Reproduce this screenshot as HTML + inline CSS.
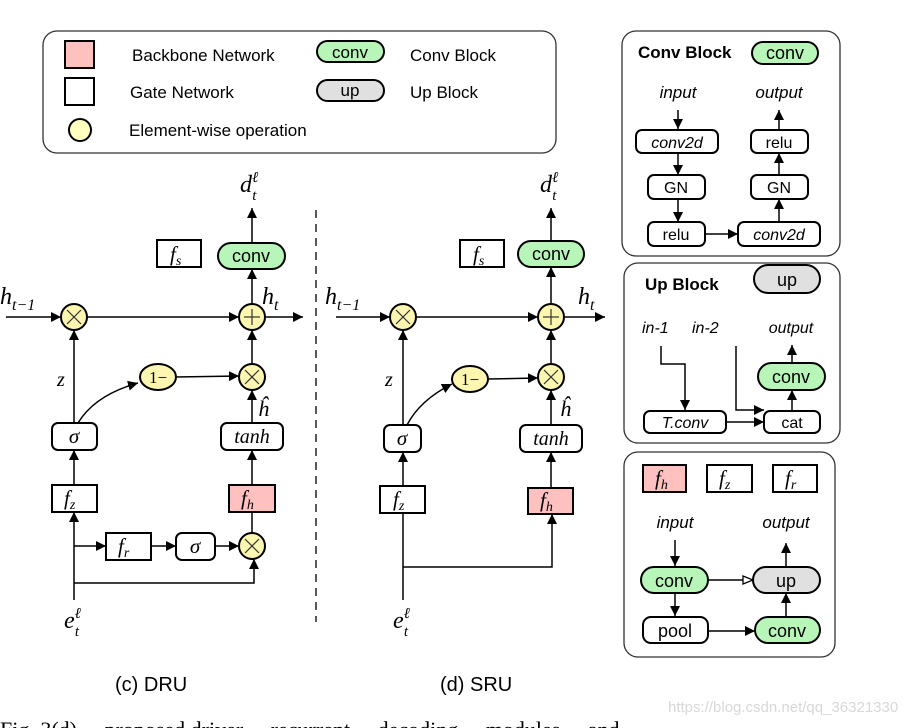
<!DOCTYPE html>
<html><head><meta charset="utf-8"><style>
html,body{margin:0;padding:0;background:#fff}
svg{display:block}
.s{font-family:"Liberation Sans",sans-serif}
.m{font-family:"Liberation Serif",serif;font-style:italic}
</style></head><body>
<svg width="921" height="728" viewBox="0 0 921 728" xmlns="http://www.w3.org/2000/svg">
<defs>
<marker id="a" viewBox="0 0 10 10" refX="10" refY="5" markerWidth="10" markerHeight="10" markerUnits="userSpaceOnUse" orient="auto"><path d="M0,0L10,5L0,10z" fill="#000"/></marker>
<marker id="o" viewBox="0 0 12 10" refX="11" refY="5" markerWidth="12" markerHeight="10" markerUnits="userSpaceOnUse" orient="auto"><path d="M1,1L11,5L1,9z" fill="#fff" stroke="#000" stroke-width="1.3"/></marker>
</defs>
<g stroke="#000" stroke-width="1.5" fill="none">
<!-- legend -->
<rect x="43" y="31" width="513" height="122" rx="14" stroke="#333" stroke-width="1.3"/>
<rect x="65" y="41" width="29" height="27" fill="#ffc0c0" stroke-width="2"/>
<rect x="65" y="78" width="29" height="27" fill="#fff" stroke-width="2"/>
<circle cx="80" cy="130" r="11" fill="#ffffc0" stroke-width="2"/>
<rect x="317" y="41" width="67" height="21" rx="10.5" fill="#b8f5b8" stroke-width="2"/>
<rect x="317" y="80" width="67" height="21" rx="10.5" fill="#e0e0e0" stroke-width="2"/>
</g>
<g class="s" font-size="17" fill="#000">
<text x="132" y="61">Backbone Network</text>
<text x="130" y="98">Gate Network</text>
<text x="129" y="136">Element-wise operation</text>
<text x="350" y="58" text-anchor="middle">conv</text>
<text x="350" y="96" text-anchor="middle">up</text>
<text x="410" y="61">Conv Block</text>
<text x="410" y="98">Up Block</text>
</g>

<!-- DRU -->
<g stroke="#000" stroke-width="1.5" fill="none">
<line x1="6" y1="317" x2="61" y2="317" marker-end="url(#a)"/>
<line x1="87" y1="317" x2="239" y2="317" marker-end="url(#a)"/>
<line x1="265" y1="317" x2="303" y2="317" marker-end="url(#a)"/>
<line x1="252" y1="243" x2="252" y2="208" marker-end="url(#a)"/>
<line x1="252" y1="304" x2="252" y2="269" marker-end="url(#a)"/>
<line x1="252" y1="364" x2="252" y2="330" marker-end="url(#a)"/>
<line x1="252" y1="423" x2="252" y2="390" marker-end="url(#a)"/>
<line x1="252" y1="485" x2="252" y2="450" marker-end="url(#a)"/>
<line x1="252" y1="533" x2="252" y2="512"/>
<line x1="74" y1="423" x2="74" y2="330" marker-end="url(#a)"/>
<line x1="74" y1="485" x2="74" y2="450" marker-end="url(#a)"/>
<line x1="74" y1="600" x2="74" y2="512" marker-end="url(#a)"/>
<line x1="74" y1="546" x2="106" y2="546" marker-end="url(#a)"/>
<line x1="151" y1="546" x2="176" y2="546" marker-end="url(#a)"/>
<line x1="215" y1="546" x2="239" y2="546" marker-end="url(#a)"/>
<polyline points="74,583 254,583 254,559" marker-end="url(#a)"/>
<path d="M78,423 Q95,395 138,383" marker-end="url(#a)"/>
<line x1="176" y1="377" x2="239" y2="376" marker-end="url(#a)"/>
<line x1="316" y1="210" x2="316" y2="622" stroke-dasharray="8,6" stroke-width="1.3"/>
<rect x="157" y="240" width="44" height="27" stroke-width="2"/>
<rect x="218" y="243" width="67" height="26" rx="13" fill="#b8f5b8" stroke-width="2"/>
<circle cx="74" cy="317" r="13" fill="#fdf6b0" stroke-width="2"/>
<circle cx="252" cy="317" r="13" fill="#fdf6b0" stroke-width="2"/>
<circle cx="252" cy="377" r="13" fill="#fdf6b0" stroke-width="2"/>
<circle cx="252" cy="546" r="13" fill="#fdf6b0" stroke-width="2"/>
<ellipse cx="158" cy="377" rx="18" ry="13" fill="#fdf6b0" stroke-width="2"/>
<rect x="52" y="423" width="45" height="27" rx="6" fill="#fff" stroke-width="2"/>
<rect x="221" y="423" width="62" height="27" rx="6" fill="#fff" stroke-width="2"/>
<rect x="52" y="485" width="45" height="27" fill="#fff" stroke-width="2"/>
<rect x="229" y="485" width="46" height="27" fill="#ffc0c0" stroke-width="2"/>
<rect x="106" y="533" width="45" height="27" fill="#fff" stroke-width="2"/>
<rect x="176" y="533" width="39" height="27" rx="6" fill="#fff" stroke-width="2"/>
</g>
<g stroke="#333" stroke-width="1.2">
<line x1="67" y1="310" x2="81" y2="324"/><line x1="81" y1="310" x2="67" y2="324"/>
<line x1="245" y1="370" x2="259" y2="384"/><line x1="259" y1="370" x2="245" y2="384"/>
<line x1="245" y1="539" x2="259" y2="553"/><line x1="259" y1="539" x2="245" y2="553"/>
<line x1="244" y1="317" x2="260" y2="317"/><line x1="252" y1="309" x2="252" y2="325"/>
</g>
<g class="m" fill="#000">
<text x="240" y="192" font-size="24">d<tspan font-size="15" dy="-10">ℓ</tspan><tspan font-size="15" dx="-6" dy="18">t</tspan></text>
<text x="0" y="304" font-size="24">h<tspan font-size="16" dy="6">t−1</tspan></text>
<text x="262" y="304" font-size="24">h<tspan font-size="16" dy="6">t</tspan></text>
<text x="57" y="386" font-size="20">z</text>
<text x="258" y="416" font-size="22">ĥ</text>
<text x="64" y="628" font-size="24">e<tspan font-size="15" dy="-10">ℓ</tspan><tspan font-size="15" dx="-6" dy="18">t</tspan></text>
<text x="170" y="261" font-size="21">f<tspan font-size="14" dy="4">s</tspan></text>
<text x="64" y="505" font-size="21">f<tspan font-size="14" dy="4">z</tspan></text>
<text x="241" y="505" font-size="21">f<tspan font-size="14" dy="4">h</tspan></text>
<text x="118" y="553" font-size="21">f<tspan font-size="14" dy="4">r</tspan></text>
<text x="74" y="443" font-size="21" text-anchor="middle">σ</text>
<text x="195" y="553" font-size="21" text-anchor="middle">σ</text>
<text x="252" y="443" font-size="20" text-anchor="middle">tanh</text>
</g>
<text x="158" y="383" font-family="Liberation Serif,serif" font-size="17" text-anchor="middle">1−</text>
<text x="251" y="262" class="s" font-size="18" text-anchor="middle">conv</text>

<!-- SRU -->
<g stroke="#000" stroke-width="1.5" fill="none">
<line x1="336" y1="317" x2="390" y2="317" marker-end="url(#a)"/>
<line x1="416" y1="317" x2="538" y2="317" marker-end="url(#a)"/>
<line x1="564" y1="317" x2="605" y2="317" marker-end="url(#a)"/>
<line x1="551" y1="241" x2="551" y2="208" marker-end="url(#a)"/>
<line x1="551" y1="304" x2="551" y2="267" marker-end="url(#a)"/>
<line x1="551" y1="364" x2="551" y2="330" marker-end="url(#a)"/>
<line x1="551" y1="425" x2="551" y2="390" marker-end="url(#a)"/>
<line x1="551" y1="488" x2="551" y2="452" marker-end="url(#a)"/>
<line x1="403" y1="425" x2="403" y2="330" marker-end="url(#a)"/>
<line x1="403" y1="486" x2="403" y2="452" marker-end="url(#a)"/>
<line x1="403" y1="600" x2="403" y2="513"/>
<polyline points="403,567 552,567 552,514" marker-end="url(#a)"/>
<path d="M407,425 Q420,400 452,384" marker-end="url(#a)"/>
<line x1="488" y1="379" x2="538" y2="378" marker-end="url(#a)"/>
<rect x="460" y="240" width="44" height="27" stroke-width="2"/>
<rect x="518" y="241" width="66" height="26" rx="13" fill="#b8f5b8" stroke-width="2"/>
<circle cx="403" cy="317" r="13" fill="#fdf6b0" stroke-width="2"/>
<circle cx="551" cy="317" r="13" fill="#fdf6b0" stroke-width="2"/>
<circle cx="551" cy="377" r="13" fill="#fdf6b0" stroke-width="2"/>
<ellipse cx="470" cy="379" rx="18" ry="13" fill="#fdf6b0" stroke-width="2"/>
<rect x="384" y="425" width="37" height="27" rx="6" fill="#fff" stroke-width="2"/>
<rect x="520" y="425" width="62" height="27" rx="6" fill="#fff" stroke-width="2"/>
<rect x="380" y="486" width="45" height="27" fill="#fff" stroke-width="2"/>
<rect x="528" y="488" width="45" height="26" fill="#ffc0c0" stroke-width="2"/>
</g>
<g stroke="#333" stroke-width="1.2">
<line x1="396" y1="310" x2="410" y2="324"/><line x1="410" y1="310" x2="396" y2="324"/>
<line x1="544" y1="370" x2="558" y2="384"/><line x1="558" y1="370" x2="544" y2="384"/>
<line x1="543" y1="317" x2="559" y2="317"/><line x1="551" y1="309" x2="551" y2="325"/>
</g>
<g class="m" fill="#000">
<text x="540" y="192" font-size="24">d<tspan font-size="15" dy="-10">ℓ</tspan><tspan font-size="15" dx="-6" dy="18">t</tspan></text>
<text x="325" y="304" font-size="24">h<tspan font-size="16" dy="6">t−1</tspan></text>
<text x="578" y="304" font-size="24">h<tspan font-size="16" dy="6">t</tspan></text>
<text x="385" y="386" font-size="20">z</text>
<text x="560" y="416" font-size="22">ĥ</text>
<text x="393" y="628" font-size="24">e<tspan font-size="15" dy="-10">ℓ</tspan><tspan font-size="15" dx="-6" dy="18">t</tspan></text>
<text x="473" y="261" font-size="21">f<tspan font-size="14" dy="4">s</tspan></text>
<text x="393" y="506" font-size="21">f<tspan font-size="14" dy="4">z</tspan></text>
<text x="540" y="507" font-size="21">f<tspan font-size="14" dy="4">h</tspan></text>
<text x="402" y="445" font-size="21" text-anchor="middle">σ</text>
<text x="551" y="445" font-size="20" text-anchor="middle">tanh</text>
</g>
<text x="470" y="385" font-family="Liberation Serif,serif" font-size="17" text-anchor="middle">1−</text>
<text x="551" y="260" class="s" font-size="18" text-anchor="middle">conv</text>

<text x="115" y="691" class="s" font-size="20">(c) DRU</text>
<text x="440" y="691" class="s" font-size="20">(d) SRU</text>

<!-- right panels -->
<g stroke="#000" stroke-width="1.5" fill="none">
<rect x="622" y="31" width="218" height="225" rx="14" stroke="#333" stroke-width="1.3"/>
<rect x="624" y="263" width="216" height="180" rx="14" stroke="#333" stroke-width="1.3"/>
<rect x="624" y="452" width="211" height="205" rx="14" stroke="#333" stroke-width="1.3"/>
<rect x="752" y="42" width="66" height="22" rx="11" fill="#b8f5b8" stroke-width="2"/>
<line x1="678" y1="110" x2="678" y2="129" marker-end="url(#a)"/>
<line x1="678" y1="153" x2="678" y2="175" marker-end="url(#a)"/>
<line x1="678" y1="199" x2="678" y2="222" marker-end="url(#a)"/>
<line x1="705" y1="234" x2="738" y2="234" marker-end="url(#a)"/>
<line x1="779" y1="222" x2="779" y2="199" marker-end="url(#a)"/>
<line x1="779" y1="175" x2="779" y2="153" marker-end="url(#a)"/>
<line x1="779" y1="130" x2="779" y2="110" marker-end="url(#a)"/>
<rect x="636" y="130" width="82" height="23" rx="6" fill="#fff" stroke-width="2"/>
<rect x="648" y="175" width="57" height="24" rx="6" fill="#fff" stroke-width="2"/>
<rect x="648" y="222" width="57" height="24" rx="6" fill="#fff" stroke-width="2"/>
<rect x="738" y="222" width="82" height="24" rx="6" fill="#fff" stroke-width="2"/>
<rect x="751" y="175" width="57" height="24" rx="6" fill="#fff" stroke-width="2"/>
<rect x="751" y="130" width="57" height="23" rx="6" fill="#fff" stroke-width="2"/>

<rect x="754" y="265" width="66" height="28" rx="14" fill="#e0e0e0" stroke-width="2"/>
<polyline points="661,346 661,364 685,364 685,410" marker-end="url(#a)"/>
<polyline points="736,346 736,410 764,410" marker-end="url(#a)"/>
<line x1="726" y1="422" x2="764" y2="422" marker-end="url(#a)"/>
<line x1="792" y1="411" x2="792" y2="390" marker-end="url(#a)"/>
<line x1="792" y1="363" x2="792" y2="345" marker-end="url(#a)"/>
<rect x="758" y="363" width="67" height="27" rx="13.5" fill="#b8f5b8" stroke-width="2"/>
<rect x="644" y="411" width="82" height="22" rx="6" fill="#fff" stroke-width="2"/>
<rect x="764" y="411" width="56" height="22" rx="6" fill="#fff" stroke-width="2"/>

<rect x="643" y="465" width="43" height="27" fill="#ffc0c0" stroke-width="2"/>
<rect x="707" y="465" width="45" height="27" fill="#fff" stroke-width="2"/>
<rect x="773" y="465" width="44" height="27" fill="#fff" stroke-width="2"/>
<line x1="675" y1="540" x2="675" y2="566" marker-end="url(#a)"/>
<line x1="675" y1="593" x2="675" y2="616" marker-end="url(#a)"/>
<line x1="708" y1="580" x2="753" y2="580" marker-end="url(#o)"/>
<line x1="708" y1="631" x2="755" y2="631" marker-end="url(#a)"/>
<line x1="786" y1="617" x2="786" y2="593" marker-end="url(#a)"/>
<line x1="786" y1="567" x2="786" y2="543" marker-end="url(#a)"/>
<rect x="641" y="567" width="67" height="26" rx="13" fill="#b8f5b8" stroke-width="2"/>
<rect x="753" y="567" width="67" height="26" rx="13" fill="#e0e0e0" stroke-width="2"/>
<rect x="643" y="617" width="65" height="26" rx="8" fill="#fff" stroke-width="2"/>
<rect x="755" y="617" width="65" height="26" rx="13" fill="#b8f5b8" stroke-width="2"/>
</g>
<g class="s" fill="#000">
<text x="638" y="58" font-size="17" font-weight="bold">Conv Block</text>
<text x="785" y="59" font-size="18" text-anchor="middle">conv</text>
<text x="678" y="98" font-size="17" font-style="italic" text-anchor="middle">input</text>
<text x="779" y="98" font-size="17" font-style="italic" text-anchor="middle">output</text>
<text x="677" y="148" font-size="16" font-style="italic" text-anchor="middle">conv2d</text>
<text x="676" y="193" font-size="16" text-anchor="middle">GN</text>
<text x="676" y="240" font-size="16" text-anchor="middle">relu</text>
<text x="779" y="240" font-size="16" font-style="italic" text-anchor="middle">conv2d</text>
<text x="779" y="193" font-size="16" text-anchor="middle">GN</text>
<text x="779" y="148" font-size="16" text-anchor="middle">relu</text>

<text x="645" y="290" font-size="17" font-weight="bold">Up Block</text>
<text x="787" y="286" font-size="18" text-anchor="middle">up</text>
<text x="642" y="333" font-size="16" font-style="italic">in-1</text>
<text x="692" y="333" font-size="16" font-style="italic">in-2</text>
<text x="791" y="333" font-size="16" font-style="italic" text-anchor="middle">output</text>
<text x="791" y="383" font-size="18" text-anchor="middle">conv</text>
<text x="685" y="428" font-size="16" font-style="italic" text-anchor="middle">T.conv</text>
<text x="792" y="428" font-size="16" text-anchor="middle">cat</text>

<text x="675" y="528" font-size="17" font-style="italic" text-anchor="middle">input</text>
<text x="786" y="528" font-size="17" font-style="italic" text-anchor="middle">output</text>
<text x="674" y="587" font-size="18" text-anchor="middle">conv</text>
<text x="786" y="587" font-size="18" text-anchor="middle">up</text>
<text x="675" y="637" font-size="18" text-anchor="middle">pool</text>
<text x="787" y="637" font-size="18" text-anchor="middle">conv</text>
<text x="668" y="712" font-size="15" fill="#d8d8d8">https://blog.csdn.net/qq_36321330</text>
</g>
<g class="m" fill="#000">
<text x="655" y="485" font-size="21">f<tspan font-size="14" dy="4">h</tspan></text>
<text x="719" y="485" font-size="21">f<tspan font-size="14" dy="4">z</tspan></text>
<text x="785" y="485" font-size="21">f<tspan font-size="14" dy="4">r</tspan></text>
</g>
<text x="0" y="737" font-family="Liberation Serif,serif" font-size="22" fill="#000">Fig. 3(d) ... proposed driver ... recurrent ... decoding ... modules ... and ...</text>
</svg>
</body></html>
